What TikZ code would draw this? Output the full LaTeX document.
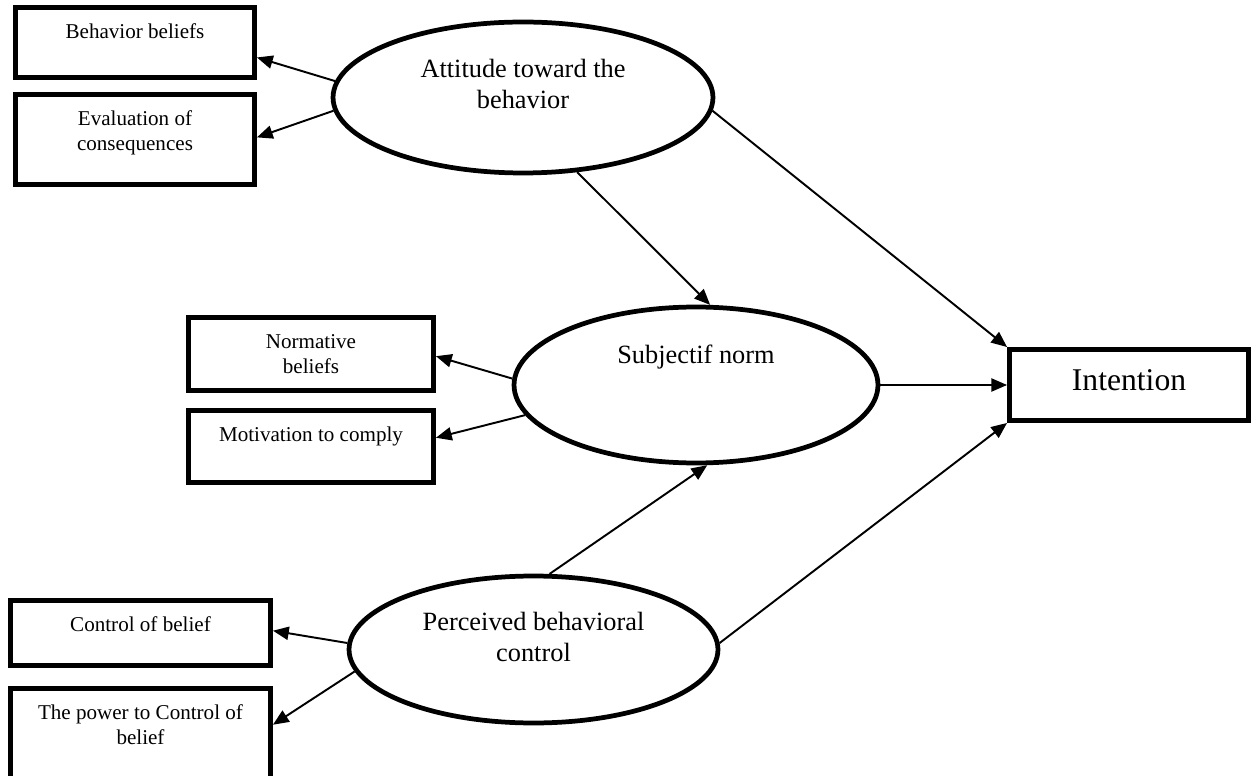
\documentclass[tikz,border=0pt]{standalone}
\usepackage{fontspec}
\setmainfont{Liberation Serif}
\usetikzlibrary{shapes.geometric,arrows.meta}
\newcommand{\toptxt}[4]{\parbox[c][#2][t]{#1}{\centering\rule{0pt}{#3}#4}}
\begin{document}
\begin{tikzpicture}[x=0.02cm, y=-0.02cm,
  box/.style={draw, line width=2.8pt, inner sep=0pt, font=\fontsize{12}{14}\selectfont},
  oval/.style={draw, ellipse, line width=2.7pt, inner sep=0pt, font=\fontsize{15}{17.5}\selectfont},
  arr/.style={-{Triangle[length=9pt,width=7.5pt]}, line width=1.1pt}]
\useasboundingbox (0,0) rectangle (1256,776);
\node[oval, minimum width=7.6cm, minimum height=3.02cm] (att) at (523,97.5)
  {\toptxt{5cm}{2cm}{0.6cm}{Attitude toward the\\behavior}};
\node[oval, minimum width=7.28cm, minimum height=3.12cm] (sub) at (696,385)
  {\toptxt{5cm}{2cm}{0.57cm}{Subjectif norm}};
\node[oval, minimum width=7.38cm, minimum height=2.94cm] (per) at (533.5,649.5)
  {\toptxt{5cm}{2cm}{0.62cm}{Perceived behavioral\\control}};
\node[box, minimum width=4.78cm, minimum height=1.42cm, font=\fontsize{18}{21}\selectfont] (int) at (1129,385)
  {\toptxt{4.4cm}{1.42cm}{0.81cm}{Intention}};
\foreach \n/\x/\y/\w/\h/\t in {bb/135/42.5/4.78/1.4/{Behavior beliefs},
    ev/135/139.5/4.78/1.8/{Evaluation of\\consequences},
    nb/311/354/4.9/1.46/{Normative\\beliefs},
    mc/311/446.5/4.9/1.44/{Motivation to comply},
    cb/140.5/633/5.2/1.3/{Control of belief},
    pw/140.5/741/5.2/2.1/{The power to Control of\\belief}}
  \node[box, minimum width=\w cm, minimum height=\h cm] (\n) at (\x,\y)
    {\toptxt{4.4cm}{\h cm}{0.62cm}{\t}};
\foreach \a/\b in {att.175/bb.-7, att.184/ev.1, sub.178/nb.-1,
    sub.190/mc.4, per.178/cb.1, per.187/pw.7}
  \draw[arr] (\a) -- (\b);
\draw[arr] (att.-54) -- (sub.80);
\draw[arr] (att.-4) -- (int.north west);
\draw[arr] (sub.east) -- (int.west);
\draw[arr] (per.78) -- (sub.-82);
\draw[arr] (per.2) -- (int.south west);
\end{tikzpicture}
\end{document}
